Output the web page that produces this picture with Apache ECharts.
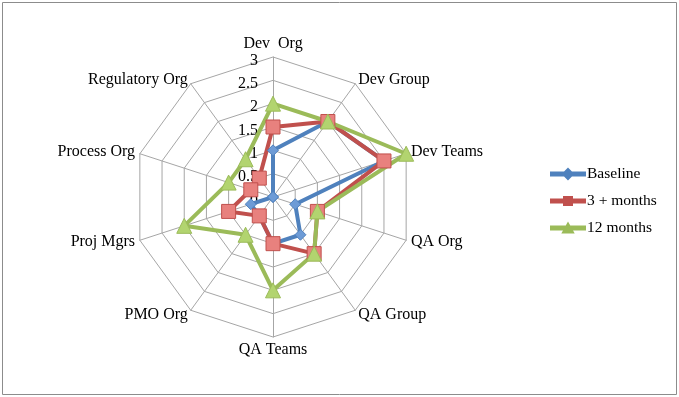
<!DOCTYPE html>
<html>
<head>
<meta charset="utf-8">
<script src="https://cdn.jsdelivr.net/npm/echarts@6/dist/echarts.min.js"></script>
<style>
  html, body { margin: 0; padding: 0; background: #fff; }
  #main { width: 679px; height: 397px; }
</style>
</head>
<body>
<div id="main"></div>
<script>
// categories round the radar, clockwise from the top
var axes = ['Dev  Org', 'Dev Group', 'Dev Teams', 'QA Org', 'QA Group',
            'QA Teams', 'PMO Org', 'Proj Mgrs', 'Process Org', 'Regulatory Org'];
var seriesNames = ['Baseline', '3 + months', '12 months'];
var baseline  = [1, 2, 2.5, 0.5, 1, 1, 0.5, 0.5, 0, 0];
var months3   = [1.5, 2, 2.5, 1, 1.5, 1, 0.5, 1, 0.5, 0.5];
var months12  = [2, 2, 3, 1, 1.5, 2, 1, 2, 1, 1];
var axisMax = 3;

var lineCol = ['#4f81bd', '#c0504d', '#9bbb59'];
var fillCol = ['#6d9bd6', '#e8817e', '#b2d46f'];
var symbols = ['diamond', 'rect', 'triangle'];
var symSize = [11, 14, 15];

var lineBar = 'M0,3.6 L34,3.6 L34,6.4 L0,6.4 Z ';
var icons = [
  'path://' + lineBar + 'M17,0 L22,5 L17,10 L12,5 Z',
  'path://' + lineBar + 'M13,1 L21,1 L21,9 L13,9 Z',
  'path://' + lineBar + 'M17,0.5 L22,9.5 L12,9.5 Z'
];

var font = '"Liberation Serif", "DejaVu Serif", serif';

// echarts lays radar axes out counter-clockwise, so feed them in reverse
var order = [0];
for (var k = axes.length - 1; k > 0; k--) order.push(k);
function reorder(arr) { return order.map(function (i) { return arr[i]; }); }

var indicator = order.map(function (i, j) {
  var o = { name: axes[i], min: 0, max: axisMax };
  if (j === 0) o.axisLabel = { show: true };
  return o;
});

var values = [baseline, months3, months12];
var myChart = echarts.init(document.getElementById('main'));
var option = {
  backgroundColor: '#fff',
  animation: false,
  graphic: [{
    type: 'rect',
    shape: { x: 2.5, y: 2.5, width: 674, height: 392 },
    style: { fill: 'none', stroke: '#8c8c8c', lineWidth: 1 }
  }],
  legend: {
    orient: 'vertical',
    left: 545,
    top: 161,
    itemWidth: 34,
    itemHeight: 10,
    itemGap: 11,
    textStyle: { fontFamily: font, fontSize: 15.5, color: '#000', padding: [0, 0, 0, -3] },
    data: seriesNames.map(function (n, i) {
      return { name: n, icon: icons[i], itemStyle: { color: lineCol[i] } };
    })
  },
  radar: {
    center: [273, 197],
    radius: 140,
    startAngle: 90,
    shape: 'polygon',
    splitNumber: 6,
    indicator: indicator,
    axisName: { color: '#000', fontFamily: font, fontSize: 16 },
    nameGap: 5,
    axisLine: { lineStyle: { color: '#a6a6a6', width: 1 } },
    splitLine: { lineStyle: { color: '#a6a6a6', width: 1 } },
    splitArea: { show: false },
    axisTick: { show: false },
    axisLabel: {
      show: false,
      color: '#000',
      fontFamily: font,
      fontSize: 16,
      margin: 15,
      verticalAlign: 'top',
      lineHeight: 7
    }
  },
  series: [{
    type: 'radar',
    data: values.map(function (v, i) {
      return {
        name: seriesNames[i],
        value: reorder(v),
        symbol: symbols[i],
        symbolSize: symSize[i],
        lineStyle: { color: lineCol[i], width: 4 },
        itemStyle: { color: fillCol[i], borderColor: lineCol[i], borderWidth: 1 }
      };
    })
  }]
};
myChart.setOption(option);
</script>
</body>
</html>
